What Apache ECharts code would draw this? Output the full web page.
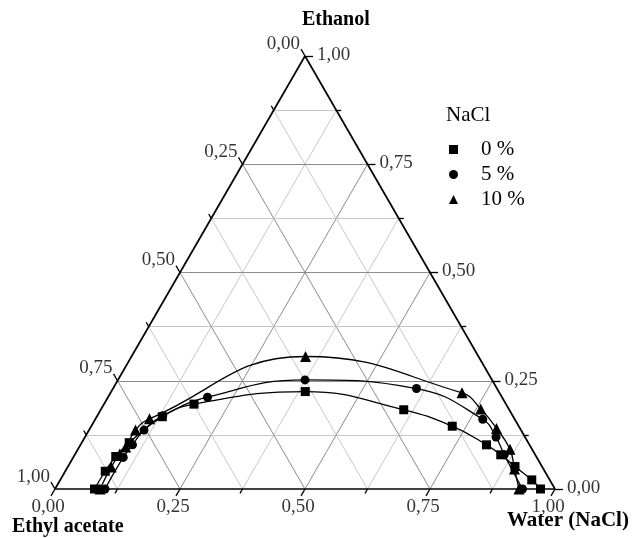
<!DOCTYPE html>
<html><head><meta charset="utf-8">
<script src="https://cdn.jsdelivr.net/npm/echarts@6/dist/echarts.min.js"></script>
<style>html,body{margin:0;padding:0;background:#fff}#c{width:636px;height:538px}</style>
</head><body><div id="c"></div>
<script>
// ---- data (mass fractions) ----
const seriesNames = ['0 %', '5 %', '10 %'];
// 0 % NaCl
const water0   = [0.079, 0.080, 0.084, 0.095, 0.131, 0.180, 0.388, 0.606, 0.722, 0.812, 0.852, 0.894, 0.943, 0.971];
const ethanol0 = [0.000, 0.041, 0.075, 0.107, 0.167, 0.196, 0.225, 0.183, 0.145, 0.102, 0.079, 0.052, 0.021, 0.000];
// 5 % NaCl
const water5   = [0.100, 0.100, 0.104, 0.110, 0.131, 0.199, 0.374, 0.607, 0.775, 0.822, 0.859, 0.935];
const ethanol5 = [0.000, 0.073, 0.102, 0.136, 0.169, 0.212, 0.252, 0.232, 0.161, 0.120, 0.079, 0.000];
// 10 % NaCl
const water10   = [0.090, 0.087, 0.089, 0.093, 0.093, 0.108, 0.348, 0.703, 0.759, 0.813, 0.864, 0.896, 0.928];
const ethanol10 = [0.000, 0.051, 0.081, 0.097, 0.136, 0.162, 0.306, 0.222, 0.185, 0.140, 0.092, 0.046, 0.000];

const tickValues = [0, 0.25, 0.5, 0.75, 1];
const tickLabels = ['0,00', '0,25', '0,50', '0,75', '1,00'];
const minorTickValues = [0.125, 0.375, 0.625, 0.875];
const gridFractions = [0.125, 0.25, 0.375, 0.5, 0.625, 0.75, 0.875];

// ---- ternary -> cartesian ----
const S = Math.sqrt(3) / 2;
function toXY(w, et) { return [w + et / 2, et * S]; }
const PX = 0.002; // one pixel in data units (500 px per unit)
const FONT = "'Liberation Serif','Times New Roman',serif";

// grid lines
const gridData = [];
gridFractions.forEach(f => {
  const major = Math.abs(f * 4 - Math.round(f * 4)) < 1e-9;
  const ls = { color: major ? '#8c8c8c' : '#c8c8c8', width: 1, opacity: 1 };
  gridData.push({ coords: [toXY(0, f), toXY(1 - f, f)], lineStyle: ls });
  gridData.push({ coords: [toXY(f, 0), toXY(f, 1 - f)], lineStyle: ls });
  gridData.push({ coords: [toXY(1 - f, 0), toXY(0, 1 - f)], lineStyle: ls });
});

// triangle edges
const edgeData = [
  { coords: [toXY(0, 0), toXY(1, 0)] },
  { coords: [toXY(1, 0), toXY(0, 1)] },
  { coords: [toXY(0, 1), toXY(0, 0)] }
];

// ticks
const dirLeft = [-0.5, S], dirBottom = [-0.5, -S], dirRight = [1, 0];
function leftPt(v) { return toXY(0, 1 - v); }      // ethyl acetate axis
function bottomPt(v) { return toXY(v, 0); }        // water axis
function rightPt(v) { return toXY(1 - v, v); }     // ethanol axis
function tickEnd(p, d, len) { return [p[0] + d[0] * len * PX, p[1] + d[1] * len * PX]; }
const tickData = [];
const labelData = [];
function addTicks(ptFn, dir, labelOpt) {
  tickValues.forEach((v, i) => {
    const p = ptFn(v), e = tickEnd(p, dir, 8);
    tickData.push({ coords: [p, e] });
    labelData.push({ value: e, label: Object.assign({ formatter: tickLabels[i] }, labelOpt) });
  });
  minorTickValues.forEach(v => {
    const p = ptFn(v);
    tickData.push({ coords: [p, tickEnd(p, dir, 5)] });
  });
}
addTicks(leftPt, dirLeft, { align: 'right', verticalAlign: 'bottom', offset: [-1, 4] });
addTicks(bottomPt, dirBottom, { align: 'center', verticalAlign: 'top', offset: [-3, 2] });
addTicks(rightPt, dirRight, { align: 'left', verticalAlign: 'middle', offset: [4, -1] });

const datasets = [[water0, ethanol0], [water5, ethanol5], [water10, ethanol10]];
const symbols = ['rect', 'circle', 'triangle'];
const symbolSizes = [9, 9, 11];

const series = [
  { type: 'lines', coordinateSystem: 'cartesian2d', silent: true, z: 1, data: gridData, clip: false,
    lineStyle: { opacity: 1 } },
  { type: 'lines', coordinateSystem: 'cartesian2d', silent: true, z: 3, data: edgeData, clip: false,
    lineStyle: { color: '#000', width: 1.7, opacity: 1 } },
  { type: 'lines', coordinateSystem: 'cartesian2d', silent: true, z: 3, data: tickData, clip: false,
    lineStyle: { color: '#000', width: 1.3, opacity: 1 } },
  { type: 'scatter', silent: true, z: 6, clip: false, symbol: 'circle', symbolSize: 0.1,
    itemStyle: { color: 'rgba(0,0,0,0)' },
    label: { show: true, position: 'inside', color: '#000', fontFamily: FONT, fontSize: 19 },
    data: labelData }
];
datasets.forEach((ds, k) => {
  const pts = ds[0].map((w, i) => toXY(w, ds[1][i]));
  series.push({ type: 'line', name: 'curve' + k, data: pts, smooth: 0.45, showSymbol: false, symbol: 'none',
    silent: true, z: 4, clip: false, lineStyle: { color: '#000', width: 1.3 } });
  series.push({ type: 'scatter', name: seriesNames[k], data: pts, symbol: symbols[k], symbolSize: symbolSizes[k],
    silent: true, z: 5, clip: false, itemStyle: { color: '#000', opacity: 1 } });
});

const chart = echarts.init(document.getElementById('c'), null, { renderer: 'canvas' });
chart.setOption({
  animation: false,
  backgroundColor: '#fff',
  grid: { left: 55, top: 56, width: 500, height: 433 },
  xAxis: { type: 'value', min: 0, max: 1, show: false },
  yAxis: { type: 'value', min: 0, max: S, show: false },
  legend: {
    data: seriesNames, orient: 'vertical', left: 444, top: 134,
    itemWidth: 9, itemHeight: 9, itemGap: 4, selectedMode: false,
    itemStyle: { color: '#000' },
    textStyle: { fontFamily: FONT, fontSize: 21, color: '#000', padding: [0, 0, 0, 18], lineHeight: 21 }
  },
  graphic: [
    { type: 'text', left: 302, top: 10, style: { text: 'Ethanol', font: "bold 20px 'Liberation Serif', serif", fill: '#000' } },
    { type: 'text', left: 12, top: 517, style: { text: 'Ethyl acetate', font: "bold 20px 'Liberation Serif', serif", fill: '#000' } },
    { type: 'text', left: 507, top: 510, style: { text: 'Water (NaCl)', font: "bold 21px 'Liberation Serif', serif", fill: '#000' } },
    { type: 'text', left: 446, top: 105, style: { text: 'NaCl', font: "21px 'Liberation Serif', serif", fill: '#000' } }
  ],
  series: series
});
</script>
</body></html>
